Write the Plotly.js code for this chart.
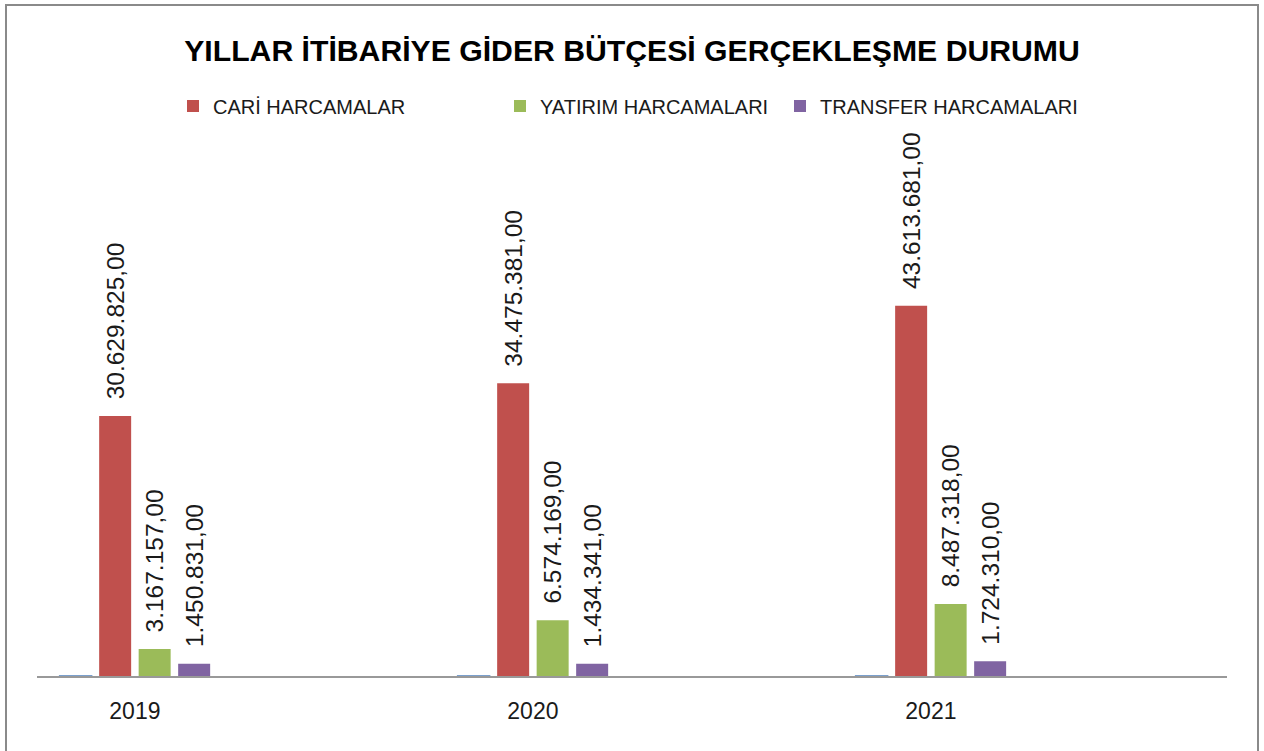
<!DOCTYPE html>
<html>
<head>
<meta charset="utf-8">
<script src="https://cdn.plot.ly/plotly-3.0.1.min.js"></script>
<style>
  html, body { margin: 0; padding: 0; background: #fff; }
  #wrap { position: relative; width: 1264px; height: 751px; overflow: hidden; }
  #chart { position: absolute; left: 0; top: 0; width: 1264px; height: 751px; }
  #frame { position: absolute; left: 5px; top: 4px; width: 1250px; height: 780px;
           border: 2px solid #8a8a8a; pointer-events: none; }
</style>
</head>
<body>
<div id="wrap">
  <div id="chart"></div>
  <div id="frame"></div>
</div>
<script>
// ---- data ----
const years = ['2019', '2020', '2021'];
const yilValues = [2019, 2020, 2021];               // tiny blue series (year values)
const cariValues = [30629825, 34475381, 43613681];
const yatirimValues = [3167157, 6574169, 8487318];
const transferValues = [1450831, 1434341, 1724310];
const seriesNames = ['CARİ HARCAMALAR', 'YATIRIM HARCAMALARI', 'TRANSFER HARCAMALARI'];

const labelFont = { family: 'Liberation Sans, Arial, sans-serif', size: 24.5, color: '#1a1a1a' };
const pad = '\u00a0\u00a0';

function barTrace(name, vals, color, legendId) {
  return {
    type: 'bar', name: name, x: years, y: vals,
    marker: { color: color },
    texttemplate: pad + '%{y:,.2f}',
    textposition: 'outside', textangle: -90,
    outsidetextfont: labelFont, constraintext: 'none', cliponaxis: false,
    legend: legendId, hoverinfo: 'x+y+name'
  };
}

const traces = [
  { type: 'bar', name: 'YIL', x: years, y: yilValues, showlegend: false,
    marker: { color: '#4F81BD', line: { color: '#4F81BD', width: 1.5 } }, hoverinfo: 'x+y' },
  barTrace(seriesNames[0], cariValues, '#C0504D', 'legend'),
  barTrace(seriesNames[1], yatirimValues, '#9BBB59', 'legend2'),
  barTrace(seriesNames[2], transferValues, '#8064A2', 'legend3')
];

const legendFont = { family: 'Liberation Sans, Arial, sans-serif', size: 20, color: '#1a1a1a' };
function legendAt(xpx) {
  return { orientation: 'h', xref: 'container', yref: 'container',
           x: xpx / 1264, xanchor: 'left', y: 1 - 106 / 751, yanchor: 'middle',
           font: legendFont, bgcolor: 'rgba(0,0,0,0)', borderwidth: 0 };
}

const layout = {
  width: 1264, height: 751,
  margin: { l: 37, r: 37, t: 130, b: 75 },
  paper_bgcolor: '#ffffff', plot_bgcolor: '#ffffff',
  separators: ',.',
  barmode: 'group', bargap: 0.603, bargroupgap: 0.19,
  title: {
    text: '<b>YILLAR İTİBARİYE GİDER BÜTÇESİ GERÇEKLEŞME DURUMU</b>',
    font: { family: 'Liberation Sans, Arial, sans-serif', size: 30.2, color: '#000' },
    x: 0.5, xanchor: 'center', xref: 'container', yref: 'container',
    y: 1 - 50 / 751, yanchor: 'middle'
  },
  legend: legendAt(173),
  legend2: legendAt(500),
  legend3: legendAt(780),
  xaxis: {
    type: 'category', range: [-0.246, 2.744],
    showline: true, linecolor: '#999999', linewidth: 1.5,
    ticks: '', showgrid: false, zeroline: false,
    ticklabelstandoff: 14,
    tickfont: { family: 'Liberation Sans, Arial, sans-serif', size: 23, color: '#1a1a1a' }
  },
  yaxis: {
    range: [0, 64.31e6], visible: false, showgrid: false, zeroline: false, fixedrange: true
  },
  showlegend: true
};

Plotly.newPlot('chart', traces, layout, { displayModeBar: false, staticPlot: true });
</script>
</body>
</html>
